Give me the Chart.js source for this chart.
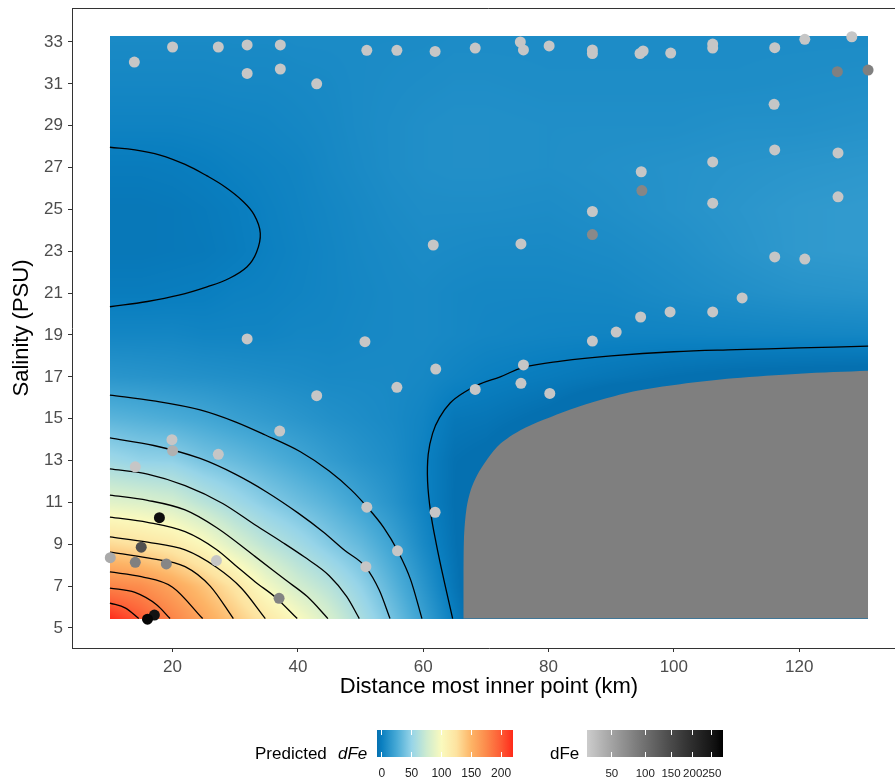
<!DOCTYPE html>
<html>
<head>
<meta charset="utf-8">
<script src="https://cdn.jsdelivr.net/npm/chart.js@4.4.1/dist/chart.umd.min.js"></script>
<style>
  html, body { margin: 0; padding: 0; background: #fff; overflow: hidden; }
  #wrap { position: relative; width: 895px; height: 778px; overflow: hidden;
          font-family: "Liberation Sans", Arial, sans-serif; }
  #plot { position: absolute; left: 0; top: 0; }
  .lg { position: absolute; white-space: nowrap; }
</style>
</head>
<body>
<div id="wrap">
  <canvas id="plot" width="910" height="778"></canvas>
  <div id="legend"></div>
</div>
<script>
// ---------- axis ticks ----------
const xTicks = [20, 40, 60, 80, 100, 120];
const yTicks = [5, 7, 9, 11, 13, 15, 17, 19, 21, 23, 25, 27, 29, 31, 33];

// ---------- predicted dFe surface (grid nodes) ----------
const gridDistance = [10, 15, 20, 25, 30, 35, 40, 45, 50, 55, 60, 65, 70, 80, 90, 100, 110, 120, 131];
const gridSalinity = [5.45, 7, 9, 11, 13, 15, 17, 19, 21, 23, 25, 27, 29, 31, 33.3];

const predS5_45 = [219, 199, 178, 158, 139, 119, 100, 80, 59, 39, 19, -1, -20, -20, -20, -20, -20, -20, -20];
const predS7    = [178, 173, 159, 142, 122, 96, 78, 65, 49, 31, 13, -5, -20, -20, -20, -20, -20, -20, -20];
const predS9    = [130, 124, 117, 102, 82, 67, 56, 44, 34, 21, 6, -7, -20, -20, -20, -20, -20, -20, -20];
const predS11   = [86, 83, 78, 66, 55, 45, 37, 29.5, 20.5, 12, 2, -8, -20, -20, -20, -20, -20, -20, -20];
const predS13   = [54, 49, 48, 40, 35, 29, 23, 17, 12, 8, 1.5, -7.5, -10, -20, -20, -20, -20, -20, -20];
const predS15   = [31, 28.6, 26, 23, 19, 16, 13, 10, 8, 6, 3, -4, -5, -10, -20, -20, -20, -20, -20];
const predS17   = [13, 12, 11, 10, 9, 8, 7, 6, 6, 6, 5, 2.5, 0.5, -2, -5, -8, -10, -11, -12];
const predS19   = [4, 4, 4, 3, 3, 3, 4, 4, 5, 5.5, 6, 5, 4, 3, 2.5, 2.5, 3, 3.5, 4];
const predS21   = [-1.5, -1.5, -1, -0.5, 1, 1.5, 2.5, 3.5, 4.5, 5.5, 6, 5, 4.5, 4.5, 5, 7, 9, 11, 12];
const predS23   = [-4, -4, -3.5, -3, -1.5, 0.5, 2, 3.5, 5, 6, 7, 6.5, 6, 6, 7, 9, 12, 15, 16];
const predS25   = [-4, -4, -3.5, -2.5, -1, 1, 2.5, 4, 5.5, 7, 8, 8, 8, 7.5, 9, 11, 13, 15, 16];
const predS27   = [-2, -2, -1.5, -0.5, 1, 2, 3, 5, 6.5, 8, 9, 9.5, 9.5, 9, 10, 11, 12, 13, 14];
const predS29   = [2, 2, 2, 2.5, 3, 3.5, 4.5, 5.5, 7, 8, 9, 9.5, 9.5, 9, 9, 9, 10, 10, 11];
const predS31   = [4.5, 4.5, 4.5, 4.5, 5, 5, 5.5, 6, 7, 7.5, 8, 8.5, 8.5, 8, 8, 8, 8, 8.5, 9];
const predS33_3 = [6.5, 6.5, 6.5, 6.5, 6.5, 6.5, 7, 7, 7, 7, 7, 7.5, 7.5, 7.5, 7.5, 7.5, 7.5, 7.5, 7.5];

const predictedRows = [predS5_45, predS7, predS9, predS11, predS13, predS15, predS17, predS19,
                       predS21, predS23, predS25, predS27, predS29, predS31, predS33_3];

// fill colour scale for predicted dFe
const fillMin = -8, fillMax = 220;
const fillStops   = [-8, 0, 25, 50, 75, 100, 125, 150, 175, 200, 220];
const fillColours = ['#0570b0', '#0a7fc0', '#48aad6', '#96d4e8', '#cdebd0', '#fafabe',
                     '#fde3a0', '#fdb466', '#fc8a4b', '#fd5a34', '#ff2a1a'];
const fillBreaks  = [0, 50, 100, 150, 200];

// ---------- contour lines of the predicted surface (distance, salinity) ----------
const contour0West = [[10, 27.97], [14, 27.85], [18, 27.6], [22, 27.15], [25.5, 26.6], [28.5, 26.05],
  [31, 25.45], [33, 24.75], [34, 23.86], [33.4, 22.95], [31.9, 22.26], [29, 21.7], [25.5, 21.3],
  [21, 20.9], [16, 20.6], [10, 20.35]];
const contour0East = [[64.7, 5.45], [63.3, 7.3], [62.1, 9.0], [61.2, 10.5], [60.7, 12.0], [60.8, 13.3],
  [61.5, 14.3], [62.6, 15.05], [64.3, 15.75], [66.5, 16.25], [69, 16.65], [72.3, 17.0], [76, 17.45],
  [82, 17.75], [90, 18.0], [100, 18.2], [110, 18.3], [120, 18.38], [131, 18.47]];
const contour20 = [[10, 16.13], [17, 15.85], [24.4, 15.42], [30, 14.85], [34.8, 14.22], [40.4, 13.42],
  [45, 12.5], [48.5, 11.6], [51, 10.8], [53.7, 9.8], [55.9, 8.7], [58, 7.3], [59.8, 5.45]];
const contour40 = [[10, 14.08], [17, 13.72], [24.4, 13.1], [30, 12.35], [35, 11.5], [40, 10.5],
  [44, 9.6], [47.5, 8.7], [50.85, 7.9], [53, 6.8], [54.7, 5.45]];
const contour60 = [[10, 12.6], [16, 12.35], [22, 11.8], [28, 10.95], [33.2, 9.92], [37.5, 9.1],
  [41, 8.4], [45, 7.5], [47.8, 6.5], [49.8, 5.45]];
const contour80 = [[10, 11.35], [16, 11.1], [22, 10.64], [27, 9.8], [33.2, 8.41], [38, 7.3],
  [41.5, 6.5], [44.8, 5.45]];
const contour100 = [[10, 10.3], [16, 10.05], [22, 9.6], [27, 8.75], [30, 8.0], [33.2, 7.2],
  [36.5, 6.45], [39.9, 5.45]];
const contour120 = [[10, 9.35], [16, 9.1], [22, 8.73], [27, 7.9], [31, 6.9], [34.8, 5.45]];
const contour140 = [[10, 8.63], [16, 8.35], [22, 7.93], [26, 7.0], [29.7, 5.45]];
const contour160 = [[10, 7.68], [15, 7.45], [20, 6.95], [24.8, 5.45]];
const contour180 = [[10, 6.91], [14, 6.7], [17.5, 6.1], [19.6, 5.45]];
const contour200 = [[10, 6.19], [12.5, 5.95], [14.6, 5.45]];

// edge of the area where the prediction falls below the colour scale
const belowScaleEdge = [[66.4, 5.45], [66.4, 7.5], [66.5, 9.3], [66.9, 10.7], [67.6, 11.6], [68.6, 12.3],
  [70.3, 13.1], [72.3, 13.8], [75.5, 14.45], [79.2, 14.95], [85, 15.6], [93.5, 16.3], [101, 16.65],
  [109.5, 16.93], [120, 17.15], [131, 17.29]];
const rasterBottom = 5.45;

// ---------- measured samples ----------
const sampleDistance = [13.9, 20.0, 27.3, 31.9, 37.2, 51.0, 55.8, 61.9, 68.3, 75.5, 76.0, 80.1, 87.0, 87.0,
  94.6, 95.1, 99.5, 106.2, 106.2, 116.1, 120.9, 128.4, 31.9, 37.2, 43.0, 126.1, 131.0, 116.0,
  116.1, 126.2, 106.2, 94.8, 94.9, 87.0, 87.0, 106.2, 126.2, 61.6, 75.6, 116.1, 120.9, 110.9,
  106.2, 99.4, 94.7, 90.8, 87.0, 31.9, 50.7, 62.0, 76.0, 75.6, 80.2, 68.3, 55.8, 43.0, 37.1,
  19.9, 20.0, 27.3, 14.05, 51.0, 61.9, 55.9, 50.85, 17.9, 15.0, 10.06, 14.05, 19.0, 27.0, 37.0,
  17.1, 16.0];
const sampleSalinity = [32.04, 32.76, 32.76, 32.86, 32.86, 32.6, 32.6, 32.55, 32.71, 33.0, 32.62, 32.81,
  32.62, 32.45, 32.45, 32.57, 32.47, 32.71, 32.9, 32.73, 33.13, 33.25, 31.5, 31.71, 31.0, 31.58,
  31.66, 30.02, 27.84, 27.7, 27.27, 26.8, 25.9, 24.9, 23.8, 25.3, 25.6, 23.3, 23.35, 22.73, 22.63,
  20.77, 20.1, 20.1, 19.86, 19.14, 18.71, 18.81, 18.68, 17.37, 17.57, 16.69, 16.21, 16.4, 16.5,
  16.1, 14.41, 14.0, 13.47, 13.3, 12.7, 10.77, 10.53, 8.69, 7.93, 10.27, 8.86, 8.36, 8.14, 8.06,
  8.22, 6.42, 5.62, 5.42];
const sampleDFe = [27, 27, 27, 27, 27, 27, 27, 27, 27, 27, 27, 27, 27, 27, 27, 27, 27, 27, 27, 27, 27, 27,
  27, 27, 27, 81, 81, 27, 27, 27, 27, 27, 75, 27, 72, 27, 27, 27, 27, 27, 27, 27, 27, 27, 27, 27,
  27, 27, 27, 27, 27, 27, 27, 27, 27, 27, 27, 27, 40, 27, 27, 27, 27, 27, 27, 265, 141, 45, 81, 75,
  27, 78, 255, 275];

// colour scale for measured dFe (square-root scale)
const dfeMin = 24, dfeMax = 282;
const dfeBreaks = [50, 100, 150, 200, 250];

// ---------- colour helpers ----------
function hexToRgb(h) {
  return [parseInt(h.slice(1, 3), 16), parseInt(h.slice(3, 5), 16), parseInt(h.slice(5, 7), 16)];
}
const fillRgb = fillColours.map(hexToRgb);
function fillColour(v) {
  if (v <= fillStops[0]) return fillRgb[0];
  for (let i = 0; i < fillStops.length - 1; i++) {
    if (v <= fillStops[i + 1]) {
      const t = (v - fillStops[i]) / (fillStops[i + 1] - fillStops[i]);
      const a = fillRgb[i], b = fillRgb[i + 1];
      return [a[0] + (b[0] - a[0]) * t, a[1] + (b[1] - a[1]) * t, a[2] + (b[2] - a[2]) * t];
    }
  }
  return fillRgb[fillRgb.length - 1];
}
function dfePos(v) {
  const t = (Math.sqrt(v) - Math.sqrt(dfeMin)) / (Math.sqrt(dfeMax) - Math.sqrt(dfeMin));
  return Math.min(1, Math.max(0, t));
}
function greyLevel(t) {
  const L = 82 * (1 - t);
  const Y = L > 8 ? Math.pow((L + 16) / 116, 3) : L / 903.3;
  const s = Y <= 0.0031308 ? 12.92 * Y : 1.055 * Math.pow(Y, 1 / 2.4) - 0.055;
  return Math.round(255 * s);
}
function greyColour(t) {
  const g = greyLevel(t);
  return `rgb(${g},${g},${g})`;
}

// ---------- plugins ----------
function locate(arr, v) {
  let i = 0;
  while (i < arr.length - 2 && v > arr[i + 1]) i++;
  let t = (v - arr[i]) / (arr[i + 1] - arr[i]);
  t = Math.min(1, Math.max(0, t));
  return [i, t];
}

const surfaceLayer = {
  id: 'surfaceLayer',
  beforeDatasetsDraw(chart) {
    const { ctx, scales: { x, y } } = chart;
    const x0 = Math.round(x.getPixelForValue(gridDistance[0]));
    const x1 = Math.round(x.getPixelForValue(gridDistance[gridDistance.length - 1]));
    const y0 = Math.round(y.getPixelForValue(gridSalinity[gridSalinity.length - 1]));
    const y1 = Math.round(y.getPixelForValue(gridSalinity[0]));
    const w = x1 - x0, h = y1 - y0;
    const off = document.createElement('canvas');
    off.width = w; off.height = h;
    const octx = off.getContext('2d');
    const img = octx.createImageData(w, h);
    const cols = [];
    for (let px = 0; px < w; px++) cols.push(locate(gridDistance, x.getValueForPixel(x0 + px + 0.5)));
    for (let py = 0; py < h; py++) {
      const [j, ty] = locate(gridSalinity, y.getValueForPixel(y0 + py + 0.5));
      const r0 = predictedRows[j], r1 = predictedRows[j + 1];
      for (let px = 0; px < w; px++) {
        const [i, tx] = cols[px];
        const a = r0[i] + (r0[i + 1] - r0[i]) * tx;
        const b = r1[i] + (r1[i + 1] - r1[i]) * tx;
        const v = a + (b - a) * ty;
        const c = fillColour(v);
        const k = (py * w + px) * 4;
        img.data[k] = c[0]; img.data[k + 1] = c[1]; img.data[k + 2] = c[2]; img.data[k + 3] = 255;
      }
    }
    octx.putImageData(img, 0, 0);
    ctx.save();
    ctx.drawImage(off, x0, y0);
    ctx.restore();
  }
};

// panel outline on the remaining sides
const panelFrame = {
  id: 'panelFrame',
  afterDraw(chart) {
    const { ctx, chartArea } = chart;
    ctx.save();
    ctx.strokeStyle = '#333333';
    ctx.lineWidth = 1;
    ctx.beginPath();
    ctx.moveTo(chartArea.left, chartArea.top + 0.5);
    ctx.lineTo(chartArea.right - 0.5, chartArea.top + 0.5);
    ctx.lineTo(chartArea.right - 0.5, chartArea.bottom);
    ctx.stroke();
    ctx.restore();
  }
};

// ---------- datasets ----------
const toPoints = arr => arr.map(p => ({ x: p[0], y: p[1] }));
const lineStyle = { type: 'line', borderColor: '#000000', borderWidth: 1.3, pointRadius: 0, fill: false, order: 2 };
// closed or folding contours: smooth along the path
const foldedContours = [contour0West, contour0East].map(c => ({
  ...lineStyle, data: toPoints(c), tension: 0.4
}));
// arcs around the inner maximum: monotone in distance
const arcContours = [contour20, contour40, contour60, contour80, contour100, contour120, contour140,
  contour160, contour180, contour200].map(c => ({
  ...lineStyle, data: toPoints(c), cubicInterpolationMode: 'monotone'
}));

const belowScaleSet = {
  type: 'line',
  data: toPoints(belowScaleEdge),
  borderWidth: 0,
  borderColor: 'rgba(0,0,0,0)',
  backgroundColor: '#7f7f7f',
  pointRadius: 0,
  tension: 0.3,
  fill: { value: rasterBottom },
  order: 3
};

const sampleSet = {
  type: 'scatter',
  data: sampleDistance.map((d, i) => ({ x: d, y: sampleSalinity[i] })),
  backgroundColor: sampleDFe.map(v => greyColour(dfePos(v))),
  borderWidth: 0,
  pointRadius: 5.5,
  order: 1
};

const FONT = '"Liberation Sans", Arial, sans-serif';

new Chart(document.getElementById('plot'), {
  type: 'scatter',
  data: { datasets: [belowScaleSet, ...foldedContours, ...arcContours, sampleSet] },
  options: {
    responsive: false,
    animation: false,
    events: [],
    layout: { autoPadding: false, padding: { left: 0, right: 4, top: 8, bottom: 78 } },
    plugins: { legend: { display: false }, tooltip: { enabled: false } },
    scales: {
      x: {
        type: 'linear', min: 3.95, max: 137.05,
        afterBuildTicks: s => { s.ticks = xTicks.map(v => ({ value: v })); },
        afterFit: s => { s.height = 52; s.paddingLeft = 0; s.paddingRight = 0; },
        grid: { display: true, drawOnChartArea: false, drawTicks: true, tickLength: 4, color: '#333333', lineWidth: 1 },
        border: { display: true, color: '#333333', width: 1 },
        ticks: { color: '#4d4d4d', font: { size: 17, family: FONT }, padding: 5, maxRotation: 0, autoSkip: false },
        title: { display: true, text: 'Distance most inner point (km)', color: '#000000',
                 font: { size: 22, family: FONT }, padding: { top: 0, bottom: 0 } }
      },
      y: {
        type: 'linear', min: 4.044, max: 34.624,
        afterBuildTicks: s => { s.ticks = yTicks.map(v => ({ value: v })); },
        afterFit: s => { s.width = 72; s.paddingTop = 0; s.paddingBottom = 0; },
        grid: { display: true, drawOnChartArea: false, drawTicks: true, tickLength: 4, color: '#333333', lineWidth: 1 },
        border: { display: true, color: '#333333', width: 1 },
        ticks: { color: '#4d4d4d', font: { size: 17, family: FONT }, padding: 5, autoSkip: false },
        title: { display: true, text: 'Salinity (PSU)', color: '#000000',
                 font: { size: 22, family: FONT }, padding: { top: 9, bottom: 0 } }
      }
    }
  },
  plugins: [surfaceLayer, panelFrame]
});

// ---------- colour bar legends ----------
const legend = document.getElementById('legend');
function addEl(html, css) {
  const d = document.createElement('div');
  d.className = 'lg';
  d.innerHTML = html;
  Object.assign(d.style, css);
  legend.appendChild(d);
  return d;
}
const barTop = 730, barH = 27, barW = 136;

// predicted dFe bar
const bar1Left = 377;
addEl('Predicted', { left: '255px', top: '744px', fontSize: '17px', lineHeight: '20px', color: '#000' });
addEl('<i>dFe</i>', { left: '338px', top: '744px', fontSize: '17px', lineHeight: '20px', color: '#000' });
const grad1 = fillStops.map((v, i) =>
  `${fillColours[i]} ${((v - fillMin) / (fillMax - fillMin) * 100).toFixed(2)}%`).join(', ');
addEl('', { left: bar1Left + 'px', top: barTop + 'px', width: barW + 'px', height: barH + 'px',
            background: `linear-gradient(to right, ${grad1})` });
fillBreaks.forEach(v => {
  const x = bar1Left + (v - fillMin) / (fillMax - fillMin) * barW;
  addEl('', { left: (x - 0.5) + 'px', top: barTop + 'px', width: '1px', height: '5px', background: '#fff' });
  addEl('', { left: (x - 0.5) + 'px', top: (barTop + barH - 5) + 'px', width: '1px', height: '5px', background: '#fff' });
  addEl(String(v), { left: x + 'px', top: '765px', fontSize: '12px', lineHeight: '16px', color: '#222',
                     transform: 'translateX(-50%)' });
});

// measured dFe bar
const bar2Left = 587;
addEl('dFe', { left: '550px', top: '744px', fontSize: '17px', lineHeight: '20px', color: '#000' });
const grad2 = [];
for (let k = 0; k <= 20; k++) grad2.push(`${greyColour(k / 20)} ${(k * 5)}%`);
addEl('', { left: bar2Left + 'px', top: barTop + 'px', width: barW + 'px', height: barH + 'px',
            background: `linear-gradient(to right, ${grad2.join(', ')})` });
dfeBreaks.forEach(v => {
  const x = bar2Left + dfePos(v) * barW;
  addEl('', { left: (x - 0.5) + 'px', top: barTop + 'px', width: '1px', height: '5px', background: '#fff' });
  addEl('', { left: (x - 0.5) + 'px', top: (barTop + barH - 5) + 'px', width: '1px', height: '5px', background: '#fff' });
  addEl(String(v), { left: x + 'px', top: '765px', fontSize: '11.5px', lineHeight: '16px', color: '#222',
                     transform: 'translateX(-50%)' });
});
</script>
</body>
</html>
